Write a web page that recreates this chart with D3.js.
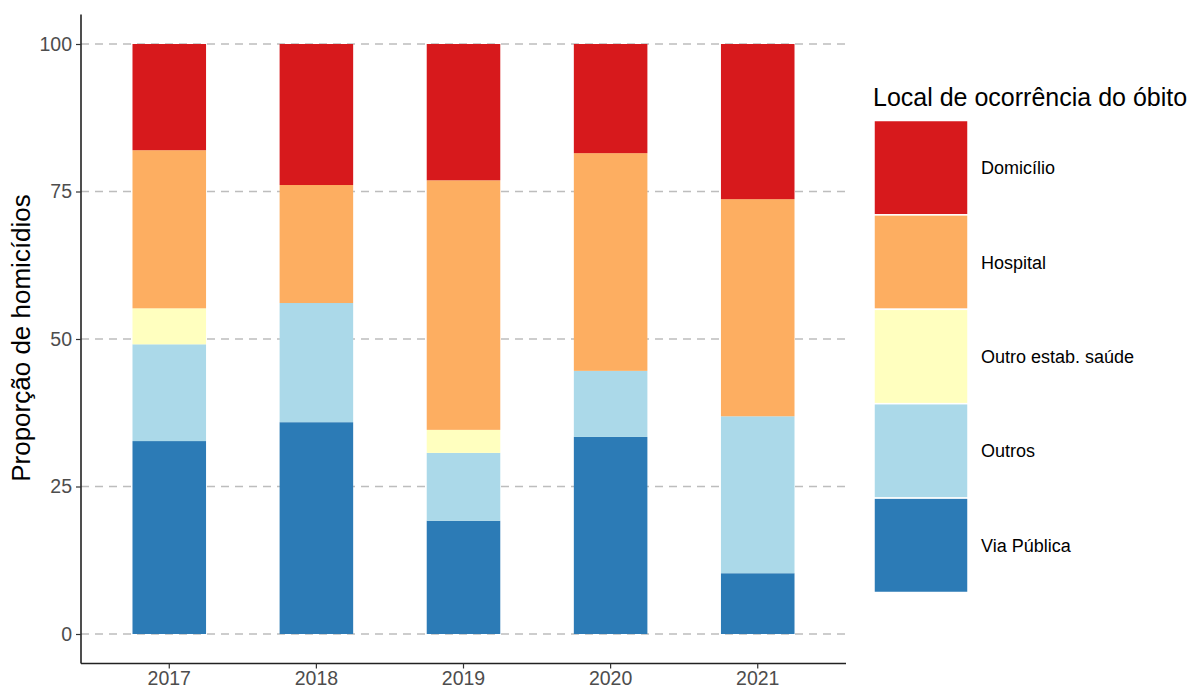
<!DOCTYPE html>
<html><head><meta charset="utf-8">
<script src="https://cdn.jsdelivr.net/npm/d3@7"></script>
<style>body{margin:0;background:#fff}text{font-family:"Liberation Sans",Arial,sans-serif}</style>
</head><body><svg id="c" width="1191" height="689"></svg>
<script>
const years = ["2017","2018","2019","2020","2021"];
const categories = ["Via Pública","Outros","Outro estab. saúde","Hospital","Domicílio"];
const viaPublica = [32.7, 35.9, 19.2, 33.4, 10.3];
const outros = [16.4, 20.2, 11.5, 11.2, 26.6];
const outroEstab = [6.1, 0, 3.9, 0, 0];
const hospital = [26.8, 20.0, 42.3, 36.9, 36.8];
const domicilio = [18.0, 23.9, 23.1, 18.5, 26.3];
const yTicks = [0, 25, 50, 75, 100];
const colors = ["#2c7bb6","#abd9e9","#ffffbf","#fdae61","#d7191c"];

const series = [viaPublica, outros, outroEstab, hospital, domicilio];
const rows = years.map((y,i)=>{const r={year:y}; categories.forEach((c,k)=>r[c]=series[k][i]); return r;});
const stack = d3.stack().keys(categories)(rows);

const svg = d3.select("#c");
const L=81, R=846, T=14.5, B=663.5;
const x = d3.scaleBand().domain(years).range([L,R]).paddingInner(0.5).paddingOuter(0.35);
const y = d3.scaleLinear().domain([-5,105]).range([B,T]);
const color = d3.scaleOrdinal().domain(categories).range(colors);

// grid
svg.append("g").selectAll("line").data(yTicks).join("line")
  .attr("x1",L).attr("x2",R).attr("y1",d=>y(d)).attr("y2",d=>y(d))
  .attr("stroke","#bdbdbd").attr("stroke-width",1.4).attr("stroke-dasharray","8,6");

// bars
svg.append("g").selectAll("g").data(stack).join("g").attr("fill",d=>color(d.key))
  .selectAll("rect").data(d=>d).join("rect")
  .attr("x",d=>x(d.data.year)).attr("width",x.bandwidth())
  .attr("y",d=>y(d[1])).attr("height",d=>Math.max(0,y(d[0])-y(d[1])));

// axes
const ya = svg.append("g").attr("transform",`translate(${L},0)`)
  .call(d3.axisLeft(y).tickValues(yTicks).tickSize(5).tickPadding(4));
ya.select(".domain").attr("d",`M0,${T}V${B}`).attr("stroke","#222").attr("stroke-width",1.6);
ya.selectAll(".tick line").attr("stroke","#333").attr("stroke-width",1.2);
ya.selectAll(".tick text").attr("fill","#4d4d4d").style("font-size","19.5px");

const xa = svg.append("g").attr("transform",`translate(0,${B})`)
  .call(d3.axisBottom(x).tickSize(5).tickPadding(3));
xa.select(".domain").attr("d",`M${L},0H${R}`).attr("stroke","#222").attr("stroke-width",1.6);
xa.selectAll(".tick line").attr("stroke","#333").attr("stroke-width",1.2);
xa.selectAll(".tick text").attr("fill","#4d4d4d").style("font-size","19.5px");

svg.append("text").attr("transform","translate(30,338) rotate(-90)")
  .attr("text-anchor","middle").style("font-size","26px").attr("fill","#000")
  .text("Proporção de homicídios");

// legend
const lg = svg.append("g");
lg.append("text").attr("x",873).attr("y",106).style("font-size","25px").attr("fill","#000")
  .text("Local de ocorrência do óbito");
const legOrder = categories.slice().reverse();
const keyH = 94.4, keyTop = 120.5;
legOrder.forEach((c,i)=>{
  lg.append("rect").attr("x",874).attr("y",keyTop+i*keyH).attr("width",94).attr("height",keyH)
    .attr("fill",color(c)).attr("stroke","#fff").attr("stroke-width",1.5);
  lg.append("text").attr("x",981).attr("y",keyTop+i*keyH+keyH/2+6.5).style("font-size","18px")
    .attr("fill","#000").text(c);
});
</script></body></html>
